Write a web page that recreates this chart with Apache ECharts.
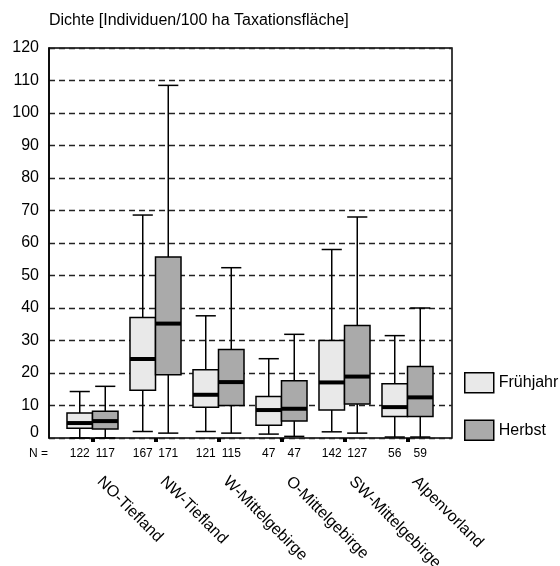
<!DOCTYPE html>
<html>
<head>
<meta charset="utf-8">
<script src="https://cdn.jsdelivr.net/npm/echarts@6/dist/echarts.min.js"></script>
<style>html,body{margin:0;padding:0;background:#fff;}#c{width:560px;height:566px;}</style>
</head>
<body>
<div id="c"></div>
<script>
const categories = ['NO-Tiefland','NW-Tiefland','W-Mittelgebirge','O-Mittelgebirge','SW-Mittelgebirge','Alpenvorland'];
const yTicks = [0,10,20,30,40,50,60,70,80,90,100,110,120];

const fruehjahrLow    = [0.0, 2.0, 2.0, 1.2, 1.9, 0.3];
const fruehjahrQ1     = [3.0, 14.7, 9.5, 3.9, 8.6, 6.6];
const fruehjahrMedian = [4.6, 24.3, 13.3, 8.6, 17.1, 9.5];
const fruehjahrQ3     = [7.7, 37.1, 21.0, 12.8, 30.0, 16.7];
const fruehjahrHigh   = [14.3, 68.6, 37.6, 24.4, 58.0, 31.5];
const fruehjahrN      = [122, 167, 121, 47, 142, 56];

const herbstLow    = [0.0, 1.5, 1.5, 0.5, 1.5, 0.3];
const herbstQ1     = [2.8, 19.5, 10.0, 5.2, 10.5, 6.6];
const herbstMedian = [5.2, 35.2, 17.2, 9.0, 18.9, 12.5];
const herbstQ3     = [8.2, 55.7, 27.2, 17.6, 34.6, 22.0];
const herbstHigh   = [15.9, 108.5, 52.4, 31.9, 68.0, 40.0];
const herbstN      = [117, 171, 115, 47, 127, 59];

const FONT = "'Liberation Sans', Arial, sans-serif";
const COL_F = '#e9e9e9';
const COL_H = '#aaaaaa';

function build(low, q1, med, q3, high, n) {
  return categories.map((c, i) => [i, low[i], q1[i], med[i], q3[i], high[i], n[i]]);
}

function makeRender(offsetFrac, color) {
  return function (params, api) {
    const cat = api.value(0);
    const band = api.size([1, 0])[0];
    const cx = api.coord([cat, 0])[0] + offsetFrac * band;
    const y = (i) => api.coord([cat, api.value(i)])[1];
    const yLow = y(1), yQ1 = y(2), yMed = y(3), yQ3 = y(4), yHigh = y(5);
    const y0 = api.coord([cat, 0])[1];
    const bw = band * 0.405;
    const cw = band * 0.32;
    const ls = { stroke: '#000', lineWidth: 1.5 };
    return {
      type: 'group',
      children: [
        { type: 'line', shape: { x1: cx, y1: yHigh, x2: cx, y2: yQ3 }, style: ls },
        { type: 'line', shape: { x1: cx, y1: yQ1, x2: cx, y2: yLow }, style: ls },
        { type: 'line', shape: { x1: cx - cw / 2, y1: yHigh, x2: cx + cw / 2, y2: yHigh }, style: ls },
        { type: 'line', shape: { x1: cx - cw / 2, y1: yLow, x2: cx + cw / 2, y2: yLow }, style: ls },
        { type: 'rect', shape: { x: cx - bw / 2, y: yQ3, width: bw, height: yQ1 - yQ3 },
          style: { fill: color, stroke: '#000', lineWidth: 1.5 } },
        { type: 'line', shape: { x1: cx - bw / 2, y1: yMed, x2: cx + bw / 2, y2: yMed },
          style: { stroke: '#000', lineWidth: 4 } },
        { type: 'text', x: cx, y: y0 + 16,
          style: { text: String(api.value(6)), fill: '#000', font: '12px ' + FONT,
                   align: 'center', verticalAlign: 'middle' } }
      ]
    };
  };
}

const chart = echarts.init(document.getElementById('c'), null, { renderer: 'canvas' });
chart.setOption({
  animation: false,
  backgroundColor: '#fff',
  grid: [
    { left: 49, right: 108, top: 48, bottom: 128, containLabel: false, outerBoundsMode: 'none',
      show: true, borderColor: '#000', borderWidth: 1.5, backgroundColor: 'transparent' },
    { left: 61, right: 121, top: 48, bottom: 128, containLabel: false, outerBoundsMode: 'none' }
  ],
  xAxis: [
    { gridIndex: 0, type: 'value', min: 0, max: 1, show: false },
    { gridIndex: 1, type: 'category', data: categories,
      axisLine: { show: false },
      axisTick: { show: true, alignWithLabel: true, length: 4, lineStyle: { color: '#000', width: 4 } },
      axisLabel: { rotate: -45, margin: 34, padding: [0, 0, 0, 10], color: '#000', fontSize: 16, fontFamily: FONT, interval: 0 } }
  ],
  yAxis: [
    { gridIndex: 0, type: 'value', min: yTicks[0], max: yTicks[yTicks.length - 1], interval: 10,
      axisLine: { show: true, lineStyle: { color: '#000', width: 1.5 } },
      axisTick: { show: false },
      axisLabel: { color: '#000', fontSize: 16, fontFamily: FONT, margin: 10,
        formatter: (v) => v === 0 ? '{z|0}' : String(v),
        rich: { z: { fontSize: 16, fontFamily: FONT, color: '#000', padding: [0, 0, 11, 0] } } },
      splitLine: { show: true, lineStyle: { color: '#222', width: 1.3, type: [6, 4] } } },
    { gridIndex: 1, type: 'value', min: yTicks[0], max: yTicks[yTicks.length - 1], show: false }
  ],
  legend: {
    orient: 'vertical', left: 464, top: 372, padding: 0,
    itemWidth: 29, itemHeight: 20, itemGap: 26,
    icon: 'rect',
    textStyle: { fontSize: 16, fontFamily: FONT, color: '#000' },
    data: [
      { name: 'Frühjahr', itemStyle: { color: COL_F, borderColor: '#000', borderWidth: 1.5 } },
      { name: 'Herbst', itemStyle: { color: COL_H, borderColor: '#000', borderWidth: 1.5 } }
    ]
  },
  graphic: [
    { type: 'text', left: 49, top: 13, style: { text: 'Dichte [Individuen/100 ha Taxationsfläche]', font: '16px ' + FONT, fill: '#000' } },
    { type: 'text', x: 29, y: 454, style: { text: 'N =', font: '12px ' + FONT, fill: '#000', verticalAlign: 'middle' } }
  ],
  series: [
    { name: 'Frühjahr', type: 'custom', xAxisIndex: 1, yAxisIndex: 1,
      itemStyle: { color: COL_F, borderColor: '#000', borderWidth: 1.5 },
      encode: { x: 0, y: [1, 2, 3, 4, 5] },
      renderItem: makeRender(-0.2024, COL_F),
      data: build(fruehjahrLow, fruehjahrQ1, fruehjahrMedian, fruehjahrQ3, fruehjahrHigh, fruehjahrN) },
    { name: 'Herbst', type: 'custom', xAxisIndex: 1, yAxisIndex: 1,
      itemStyle: { color: COL_H, borderColor: '#000', borderWidth: 1.5 },
      encode: { x: 0, y: [1, 2, 3, 4, 5] },
      renderItem: makeRender(0.2024, COL_H),
      data: build(herbstLow, herbstQ1, herbstMedian, herbstQ3, herbstHigh, herbstN) }
  ]
});
</script>
</body>
</html>
